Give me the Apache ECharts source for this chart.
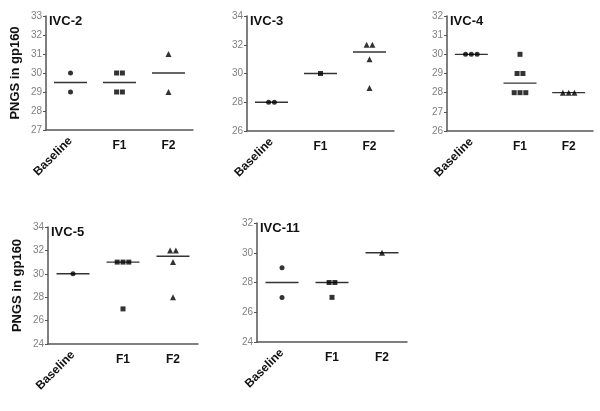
<!DOCTYPE html>
<html>
<head>
<meta charset="utf-8">
<script src="https://cdn.jsdelivr.net/npm/echarts@6/dist/echarts.min.js"></script>
<style>
  html, body { margin: 0; padding: 0; background: #fff; }
  #chart { width: 600px; height: 411px; }
</style>
</head>
<body>
<div id="chart"></div>
<script>
// groups on the x axis
var categories = ['Baseline', 'F1', 'F2'];
var panelNames = ['IVC-2', 'IVC-3', 'IVC-4', 'IVC-5', 'IVC-11'];

// PNGS counts per group (Baseline, F1, F2)
var ivc2 = [[30, 29], [30, 30, 29, 29], [31, 29]];
var ivc3 = [[28, 28], [30], [32, 32, 31, 29]];
var ivc4 = [[30, 30, 30], [30, 29, 29, 28, 28, 28], [28, 28, 28]];
var ivc5 = [[30], [31, 31, 31, 27], [32, 32, 31, 28]];
var ivc11 = [[29, 27], [28, 28, 27], [30]];
var panelData = [ivc2, ivc3, ivc4, ivc5, ivc11];

// y axis ticks
var yMin = [27, 26, 26, 24, 24];
var yMax = [33, 34, 32, 34, 32];
var yStep = [1, 2, 1, 2, 2];

var symbols = ['circle', 'rect', 'triangle'];
var symbolSizes = [5, 5, 6];

// panel boxes (px)
var boxes = [
    { left: 46, top: 16, width: 147, height: 114 },
    { left: 247, top: 16, width: 147, height: 115 },
    { left: 447, top: 16, width: 146, height: 115 },
    { left: 48, top: 227, width: 150, height: 117 },
    { left: 257, top: 223, width: 150, height: 119 }
];

var FONT = 'Arial, "Liberation Sans", sans-serif';
var AXIS_COLOR = '#555';

var median = function (arr) {
    var s = arr.slice().sort(function (a, b) { return a - b; });
    var m = Math.floor(s.length / 2);
    return s.length % 2 ? s[m] : (s[m - 1] + s[m]) / 2;
};

var grids = [], xAxes = [], yAxes = [], series = [], titles = [];

panelNames.forEach(function (name, p) {
    var b = boxes[p];
    grids.push({
        left: b.left, top: b.top, width: b.width, height: b.height,
        outerBoundsMode: 'none', containLabel: false
    });
    titles.push({
        text: name, left: b.left + 3, top: b.top - 1, padding: 0,
        textStyle: { fontFamily: FONT, fontSize: 13, fontWeight: 'bold', color: '#111' }
    });

    // axis with horizontal F1 / F2 labels
    xAxes.push({
        type: 'category', gridIndex: p, position: 'bottom', data: categories, boundaryGap: true,
        axisLine: { lineStyle: { color: AXIS_COLOR, width: 1.5 } },
        axisTick: { alignWithLabel: true, length: 3, lineStyle: { color: AXIS_COLOR } },
        axisLabel: {
            margin: 10, color: '#111', fontFamily: FONT, fontSize: 12, fontWeight: 'bold',
            formatter: function (v) { return v === 'Baseline' ? '' : v; }
        }
    });
    // overlay axis for the rotated Baseline label
    xAxes.push({
        type: 'category', gridIndex: p, position: 'bottom', data: categories, boundaryGap: true,
        axisLine: { show: false }, axisTick: { show: false },
        axisLabel: {
            margin: 9, rotate: 45, color: '#111', fontFamily: FONT, fontSize: 12, fontWeight: 'bold',
            formatter: function (v) { return v === 'Baseline' ? v : ''; }
        }
    });

    yAxes.push({
        type: 'value', gridIndex: p, min: yMin[p], max: yMax[p], interval: yStep[p],
        name: (p === 0 || p === 3) ? 'PNGS in gp160' : '',
        nameLocation: 'middle', nameGap: 24, nameRotate: 90,
        nameTextStyle: { fontFamily: FONT, fontSize: 13, fontWeight: 'bold', color: '#111' },
        splitLine: { show: false },
        axisLine: { show: true, lineStyle: { color: AXIS_COLOR, width: 1.5 } },
        axisTick: { show: true, length: 3, lineStyle: { color: AXIS_COLOR } },
        axisLabel: { margin: 4, color: '#808080', fontFamily: FONT, fontSize: 10 }
    });

    var groups = panelData[p];
    groups.forEach(function (vals, c) {
        // spread identical values side by side
        var counts = {}, seen = {};
        vals.forEach(function (v) { counts[v] = (counts[v] || 0) + 1; });
        var pts = vals.map(function (v) {
            var i = seen[v] || 0; seen[v] = i + 1;
            var n = counts[v];
            return { value: [c, v], symbolOffset: [(i - (n - 1) / 2) * 5.8, 0] };
        });
        series.push({
            type: 'scatter', xAxisIndex: p * 2, yAxisIndex: p,
            symbol: symbols[c], symbolSize: symbolSizes[c],
            itemStyle: { color: '#000' }, data: pts, z: 3, silent: true
        });
        // median bar
        series.push({
            type: 'scatter', xAxisIndex: p * 2, yAxisIndex: p,
            symbol: 'rect', symbolSize: [33, 1.4],
            itemStyle: { color: '#000' }, data: [[c, median(vals)]], z: 2, silent: true
        });
    });
});

var myChart = echarts.init(document.getElementById('chart'));
myChart.setOption({
    backgroundColor: '#fff',
    animation: false,
    title: titles,
    grid: grids,
    xAxis: xAxes,
    yAxis: yAxes,
    series: series
});
</script>
</body>
</html>
